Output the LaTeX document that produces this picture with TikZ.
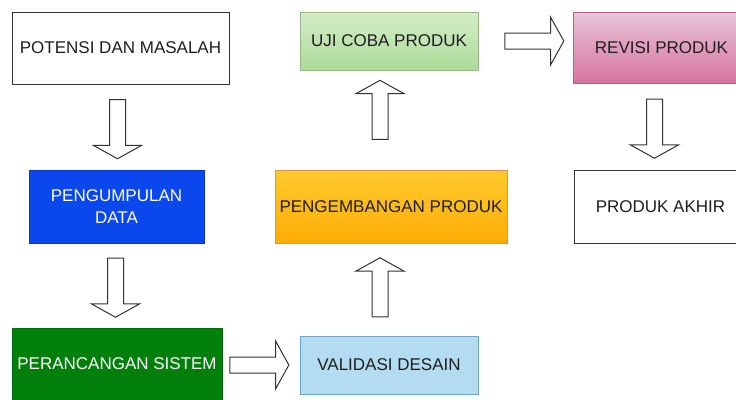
\documentclass[tikz,border=0pt]{standalone}
\usepackage{fontspec}
\setmainfont{Liberation Sans}
\usetikzlibrary{shapes.arrows}
\definecolor{teks}{HTML}{1E1E1E}
\definecolor{garis}{HTML}{333333}
\definecolor{biru}{HTML}{0A48EE}
\definecolor{hijau}{HTML}{00800A}
\definecolor{birumuda}{HTML}{B3DCF0}
\definecolor{birutepi}{HTML}{6FA5CC}
\definecolor{oranyeatas}{HTML}{FFCA2E}
\definecolor{oranyebawah}{HTML}{FFAC05}
\definecolor{hijauatas}{HTML}{D3EDC8}
\definecolor{hijaubawah}{HTML}{ADDB98}
\definecolor{merahatas}{HTML}{E8C6D8}
\definecolor{merahbawah}{HTML}{D6739E}
\begin{document}
\begin{tikzpicture}[x=1pt,y=-1pt,
kotak/.style={line width=0.8pt, align=center, inner sep=2pt, text=teks, font=\fontsize{17}{22}\selectfont},
panah/.style={single arrow, draw=garis, fill=white, line width=1pt, inner xsep=0pt, inner ysep=7.5pt, minimum height=59pt, single arrow head extend=16pt, single arrow tip angle=122, sloped, allow upside down}]
\clip (0,0) rectangle (736,399);
\fill[white] (0,0) rectangle (736,399);
% kolom kiri
\node[kotak, draw=garis, minimum width=217pt, minimum height=72pt] (potensi) at (120.5,48) {POTENSI DAN MASALAH};
\node[kotak, draw=biru!80!black, fill=biru, text=white, minimum width=175pt, minimum height=73pt] (data) at (116.5,206.5) {PENGUMPULAN\\DATA};
\node[kotak, draw=hijau!85!black, fill=hijau, text=white, minimum width=210pt, minimum height=72pt] (rancang) at (117,364) {PERANCANGAN SISTEM};
% kolom tengah
\node[kotak, draw=birutepi, fill=birumuda, minimum width=178pt, minimum height=58pt] (validasi) at (389,365) {VALIDASI DESAIN};
\node[kotak, draw=orange!80!black!70, top color=oranyeatas, bottom color=oranyebawah, minimum width=232pt, minimum height=73pt] (kembang) at (391,206.5) {PENGEMBANGAN PRODUK};
\node[kotak, draw=hijaubawah!85!black, top color=hijauatas, bottom color=hijaubawah, minimum width=178pt, minimum height=58pt] (uji) at (389,41) {UJI COBA PRODUK};
% kolom kanan
\node[kotak, draw=merahbawah!85!black, top color=merahatas, bottom color=merahbawah, minimum width=177pt, minimum height=71pt] (revisi) at (661.5,47.5) {REVISI PRODUK};
\node[kotak, draw=garis, minimum width=173pt, minimum height=73pt] (akhir) at (660.5,206.5) {PRODUK AKHIR};
% panah
\path ([xshift=-3pt]potensi.south) -- node[panah] (p1) {} ([xshift=-3pt]potensi.south |- data.north);
\path ([xshift=-1pt]data.south) -- node[panah] (p2) {} ([xshift=-1pt]data.south |- rancang.north);
\path (rancang.east |- validasi.east) -- node[panah, pos=.45] (p3) {} (validasi.west);
\path ([xshift=-9pt]validasi.north) -- node[panah] (p4) {} ([xshift=-9pt]validasi.north |- kembang.south);
\path ([xshift=-11pt]kembang.north) -- node[panah, pos=.58] (p5) {} ([xshift=-11pt]kembang.north |- uji.south);
\path (uji.east) -- node[panah, pos=.57] (p6) {} (uji.east -| revisi.west);
\path ([xshift=-7pt]revisi.south) -- node[panah] (p7) {} ([xshift=-7pt]revisi.south |- akhir.north);
\end{tikzpicture}
\end{document}
